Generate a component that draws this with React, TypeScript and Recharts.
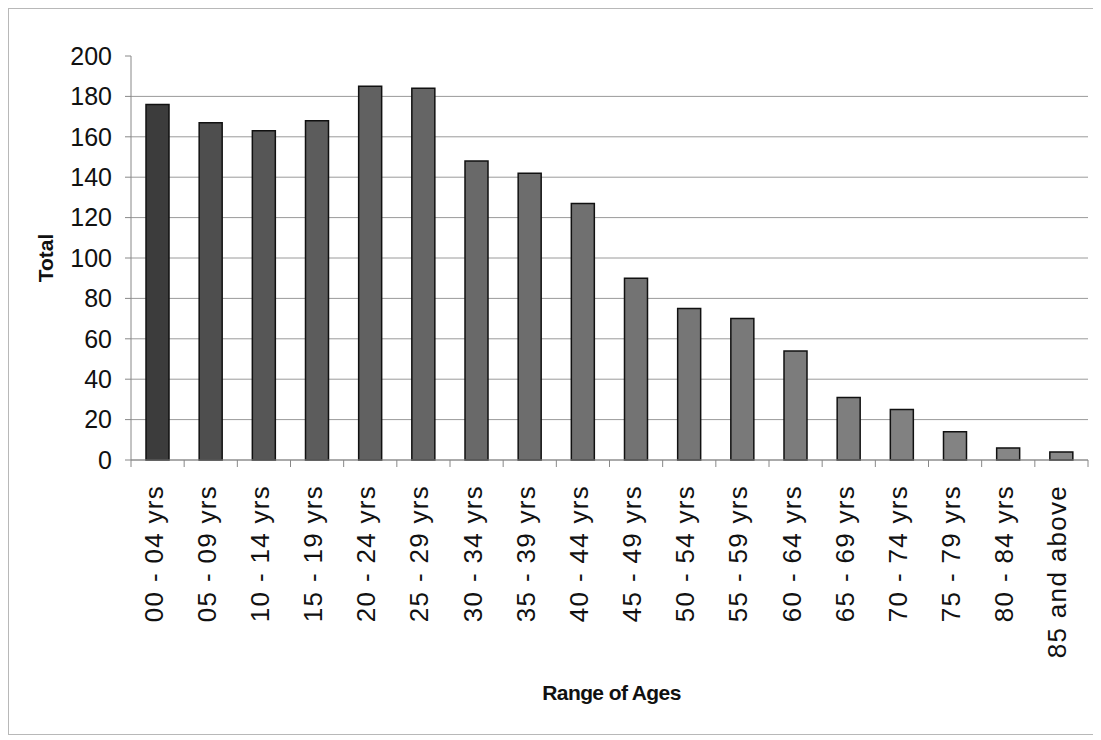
import { BarChart, Bar, XAxis, YAxis, CartesianGrid, Rectangle } from "recharts";

const ageRanges = [
  "00 - 04 yrs", "05 - 09 yrs", "10 - 14 yrs", "15 - 19 yrs", "20 - 24 yrs", "25 - 29 yrs",
  "30 - 34 yrs", "35 - 39 yrs", "40 - 44 yrs", "45 - 49 yrs", "50 - 54 yrs", "55 - 59 yrs",
  "60 - 64 yrs", "65 - 69 yrs", "70 - 74 yrs", "75 - 79 yrs", "80 - 84 yrs", "85 and above",
];
const totals = [176, 167, 163, 168, 185, 184, 148, 142, 127, 90, 75, 70, 54, 31, 25, 14, 6, 4];
const yTicks = [0, 20, 40, 60, 80, 100, 120, 140, 160, 180, 200];
const gridValues = [0, 20, 40, 60, 80, 100, 120, 140, 160, 180];

const data = ageRanges.map((range, i) => ({ range, total: totals[i] }));

const W = 1085;
const H = 725;
const margin = { top: 47, right: 6, bottom: 74, left: 52 };
const yAxisWidth = 70;
const xAxisHeight = 200;
const plotLeft = margin.left + yAxisWidth;
const plotWidth = W - margin.right - plotLeft;
const plotTop = margin.top;
const plotHeight = H - margin.top - margin.bottom - xAxisHeight;
const band = plotWidth / ageRanges.length;
const font = "'Liberation Sans', Arial, sans-serif";

// scanned original fades from dark grey on the left to lighter grey on the right
const shade = (i: number) => {
  const t = i / (ageRanges.length - 1);
  const v = Math.round(0x3c + (0x88 - 0x3c) * Math.sqrt(t));
  return `rgb(${v},${v},${v})`;
};

const GreyBar = (props: any) => (
  <Rectangle {...props} fill={shade(props.index)} stroke="#111" strokeWidth={1.5} />
);

const AgeTick = ({ x, y, payload, index }: any) => {
  const left = x - band / 2;
  return (
    <g>
      <line x1={left} y1={y} x2={left} y2={y + 7} stroke="#888" />
      {index === ageRanges.length - 1 && (
        <line x1={x + band / 2} y1={y} x2={x + band / 2} y2={y + 7} stroke="#888" />
      )}
      <text
        x={0}
        y={0}
        transform={`translate(${x + 5}, ${y + 25}) rotate(-90)`}
        textAnchor="end"
        fontSize={26}
        letterSpacing={1.3}
        fontFamily={font}
        fill="#111"
      >
        {payload.value}
      </text>
    </g>
  );
};

const gridCoords = (props: any) => {
  const scale = props?.yAxis?.scale;
  if (typeof scale === "function") return gridValues.map((v) => scale(v));
  return gridValues.map((v) => plotTop + (1 - v / 200) * plotHeight);
};

export default function App() {
  return (
    <div style={{ width: W, height: H, border: "1px solid #b8b8b8", background: "#fff" }}>
      <BarChart width={W} height={H} data={data} margin={margin}>
        <CartesianGrid
          vertical={false}
          stroke="#9a9a9a"
          horizontalCoordinatesGenerator={gridCoords}
        />
        <XAxis
          dataKey="range"
          interval={0}
          height={xAxisHeight}
          stroke="#888"
          tickLine={false}
          tickSize={0}
          tickMargin={0}
          tick={<AgeTick />}
          label={{
            content: () => (
              <text
                x={plotLeft + plotWidth / 2 + 2}
                y={691}
                textAnchor="middle"
                fontSize={21}
                fontWeight="bold"
                letterSpacing={-0.6}
                fontFamily={font}
                fill="#111"
              >
                Range of Ages
              </text>
            ),
          }}
        />
        <YAxis
          width={yAxisWidth}
          domain={[0, 200]}
          ticks={yTicks}
          interval={0}
          stroke="#888"
          tickSize={6}
          tickMargin={13}
          tick={{ fontSize: 25, fill: "#111", fontFamily: font }}
          label={{
            content: () => (
              <text
                x={0}
                y={0}
                transform={`translate(43.5, ${plotTop + plotHeight / 2}) rotate(-90)`}
                textAnchor="middle"
                fontSize={21}
                fontWeight="bold"
                fontFamily={font}
                fill="#111"
              >
                Total
              </text>
            ),
          }}
        />
        <Bar dataKey="total" barSize={23} shape={<GreyBar />} isAnimationActive={false} />
      </BarChart>
    </div>
  );
}
